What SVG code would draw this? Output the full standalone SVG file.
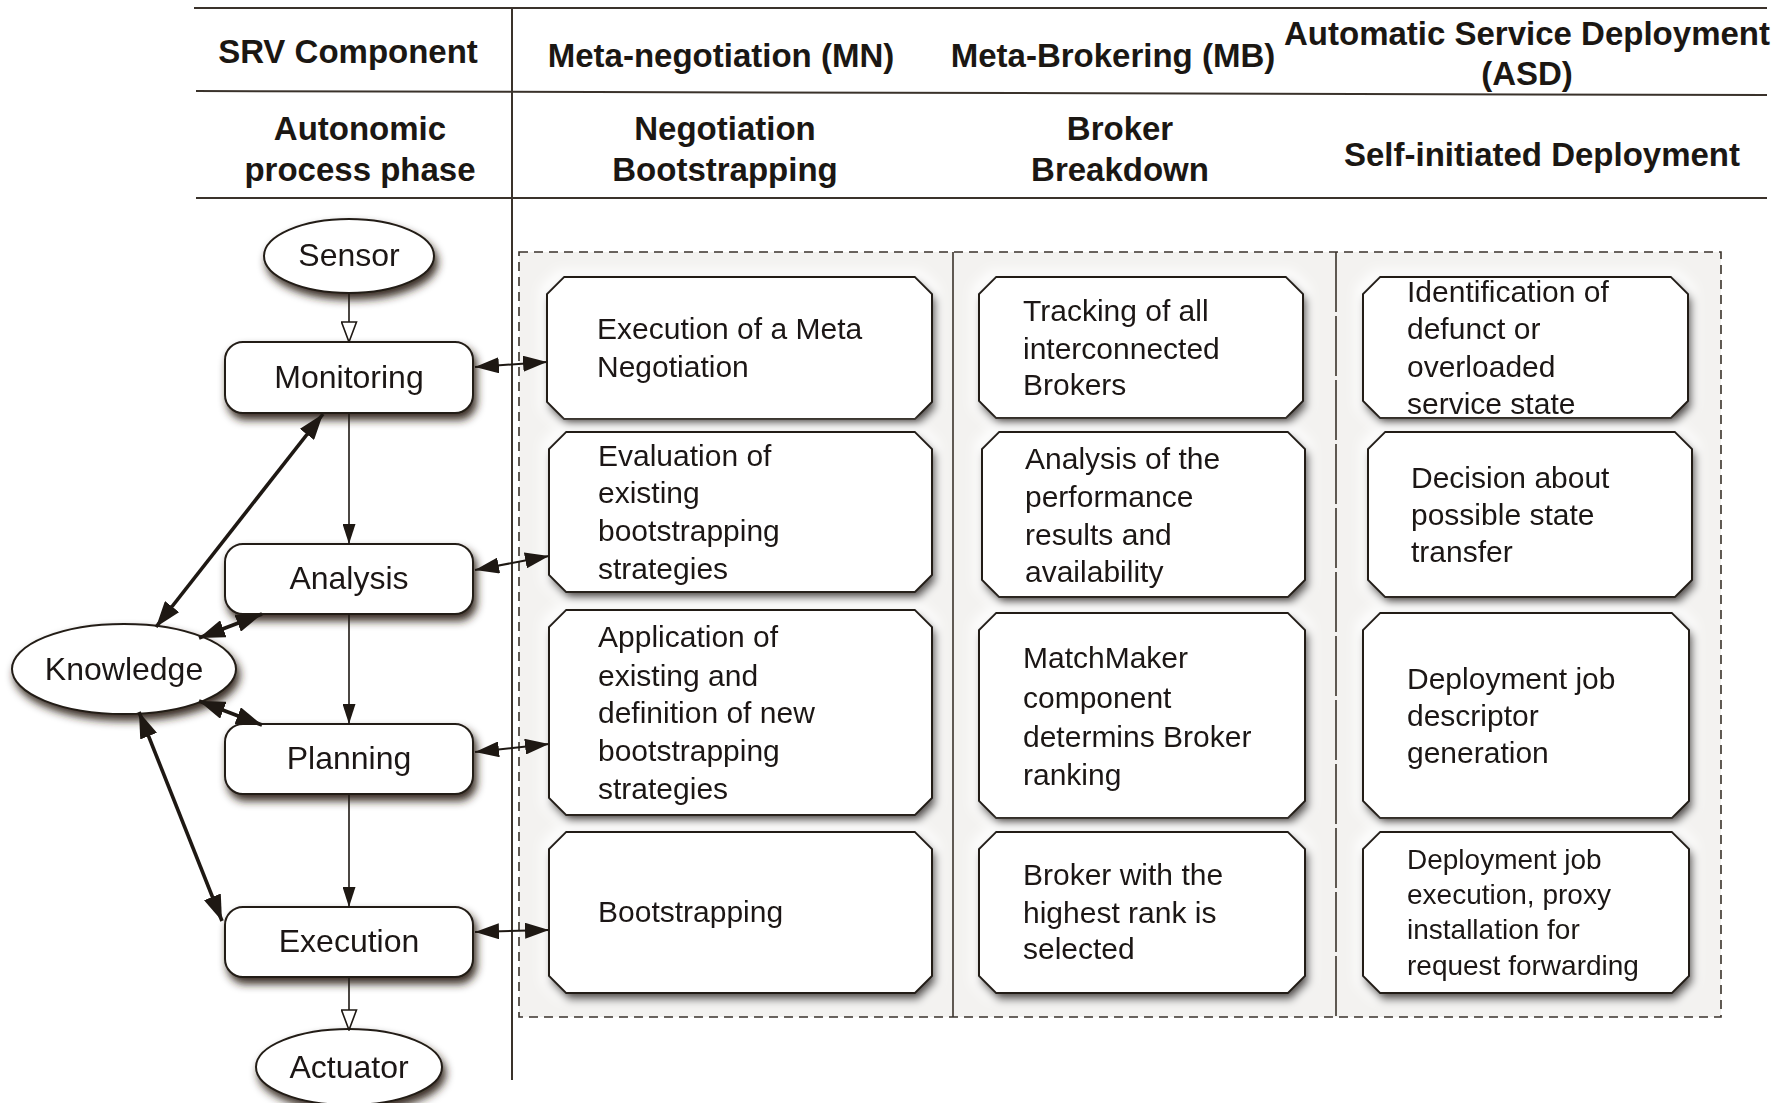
<svg xmlns="http://www.w3.org/2000/svg" width="1787" height="1103" viewBox="0 0 1787 1103">
  <style>
    .rule { stroke: #3a322b; stroke-width: 2; fill: none; }
    .head { font-family: "Liberation Sans", Arial, sans-serif; font-weight: bold; font-size: 33px; fill: #1b1713; text-anchor: middle; }
    .lbl { font-family: "Liberation Sans", Arial, sans-serif; font-size: 32px; fill: #1b1713; text-anchor: middle; }
    .txt { font-family: "Liberation Sans", Arial, sans-serif; font-size: 30px; fill: #1b1713; }
    .small { font-size: 28px; }
    .shape { fill: #ffffff; stroke: #231d17; stroke-width: 2; }
    .flow { stroke: #1e1813; stroke-width: 1.6; fill: none; }
    .kn { stroke: #1e1813; stroke-width: 3.6; fill: none; }
    .link { stroke: #1e1813; stroke-width: 2; fill: none; }
  </style>
  <defs>
    <!-- soft white glow plus brown drop shadow for the step boxes -->
    <filter id="drop" x="-15%" y="-15%" width="135%" height="150%">
      <feMorphology in="SourceAlpha" operator="dilate" radius="6" result="wide"/>
      <feGaussianBlur in="wide" stdDeviation="6" result="haloBlur"/>
      <feFlood flood-color="#ffffff" flood-opacity="0.9"/>
      <feComposite in2="haloBlur" operator="in" result="halo"/>
      <feGaussianBlur in="SourceAlpha" stdDeviation="4" result="blur"/>
      <feOffset in="blur" dx="3" dy="6" result="off"/>
      <feFlood flood-color="#2e2218" flood-opacity="0.95"/>
      <feComposite in2="off" operator="in" result="shadow"/>
      <feMerge><feMergeNode in="halo"/><feMergeNode in="shadow"/><feMergeNode in="SourceGraphic"/></feMerge>
    </filter>
    <!-- plain drop shadow for the loop nodes -->
    <filter id="drop2" x="-15%" y="-15%" width="135%" height="150%">
      <feGaussianBlur in="SourceAlpha" stdDeviation="4" result="blur"/>
      <feOffset in="blur" dx="3" dy="6" result="off"/>
      <feFlood flood-color="#2e2218" flood-opacity="0.95"/>
      <feComposite in2="off" operator="in" result="shadow"/>
      <feMerge><feMergeNode in="shadow"/><feMergeNode in="SourceGraphic"/></feMerge>
    </filter>
    <marker id="solid" viewBox="0 0 20 13" refX="20" refY="6.5" markerWidth="20" markerHeight="13" markerUnits="userSpaceOnUse" orient="auto-start-reverse">
      <path d="M0,0 L20,6.5 L0,13 z" fill="#1e1813"/>
    </marker>
    <marker id="hollow" viewBox="0 0 22 17" refX="21" refY="8.5" markerWidth="22" markerHeight="17" markerUnits="userSpaceOnUse" orient="auto">
      <path d="M1,1 L21,8.5 L1,16 z" fill="#ffffff" stroke="#1e1813" stroke-width="1.6"/>
    </marker>
    <marker id="big" viewBox="0 0 26 18" refX="26" refY="9" markerWidth="26" markerHeight="18" markerUnits="userSpaceOnUse" orient="auto-start-reverse">
      <path d="M0,0 L26,9 L0,18 z" fill="#1e1813"/>
    </marker>
    <marker id="mid" viewBox="0 0 24 16" refX="24" refY="8" markerWidth="24" markerHeight="16" markerUnits="userSpaceOnUse" orient="auto-start-reverse">
      <path d="M0,0 L24,8 L0,16 z" fill="#1e1813"/>
    </marker>
  </defs>

  <rect width="1787" height="1103" fill="#ffffff"/>

  <!-- table header rules -->
  <g id="table">
    <line class="rule" x1="194" y1="8" x2="1767" y2="8"/>
    <line class="rule" x1="196" y1="91" x2="1767" y2="95"/>
    <line class="rule" x1="196" y1="198" x2="1767" y2="198"/>
    <line class="rule" x1="512" y1="8" x2="512" y2="1080"/>
    <text class="head" x="348" y="63">SRV Component</text>
    <text class="head" x="721" y="67">Meta-negotiation (MN)</text>
    <text class="head" x="1113" y="67">Meta-Brokering (MB)</text>
    <text class="head" x="1527" y="45">Automatic Service Deployment</text>
    <text class="head" x="1527" y="85">(ASD)</text>
    <text class="head" x="360" y="140">Autonomic</text>
    <text class="head" x="360" y="181">process phase</text>
    <text class="head" x="725" y="140">Negotiation</text>
    <text class="head" x="725" y="181">Bootstrapping</text>
    <text class="head" x="1120" y="140">Broker</text>
    <text class="head" x="1120" y="181">Breakdown</text>
    <text class="head" x="1542" y="166">Self-initiated Deployment</text>
  </g>

  <!-- component area -->
  <g id="area">
    <rect x="519" y="252" width="1202" height="765" fill="#f3f2f0" stroke="#3a322b" stroke-width="1.6" stroke-dasharray="9 6"/>
    <line x1="953" y1="252" x2="953" y2="1017" stroke="#3a322b" stroke-width="1.6"/>
    <line x1="1336" y1="252" x2="1336" y2="1017" stroke="#3a322b" stroke-width="1.6" stroke-dasharray="60 4"/>
  </g>

  <!-- autonomic loop -->
  <g id="sensor" filter="url(#drop2)">
    <ellipse class="shape" cx="349" cy="256" rx="85" ry="37"/>
    <text class="lbl" x="349" y="266">Sensor</text>
  </g>
  <g id="monitoring" filter="url(#drop2)">
    <rect class="shape" x="225" y="342" width="248" height="71" rx="18"/>
    <text class="lbl" x="349" y="388">Monitoring</text>
  </g>
  <g id="analysis" filter="url(#drop2)">
    <rect class="shape" x="225" y="544" width="248" height="70" rx="18"/>
    <text class="lbl" x="349" y="589">Analysis</text>
  </g>
  <g id="planning" filter="url(#drop2)">
    <rect class="shape" x="225" y="724" width="248" height="70" rx="18"/>
    <text class="lbl" x="349" y="769">Planning</text>
  </g>
  <g id="execution" filter="url(#drop2)">
    <rect class="shape" x="225" y="907" width="248" height="70" rx="18"/>
    <text class="lbl" x="349" y="952">Execution</text>
  </g>
  <g id="knowledge" filter="url(#drop2)">
    <ellipse class="shape" cx="124" cy="669" rx="112" ry="45"/>
    <text class="lbl" x="124" y="680">Knowledge</text>
  </g>
  <g id="actuator" filter="url(#drop2)">
    <ellipse class="shape" cx="349" cy="1067" rx="93" ry="38"/>
    <text class="lbl" x="349" y="1078">Actuator</text>
  </g>

  <!-- Meta-negotiation column -->
  <g id="mn-1" filter="url(#drop)">
    <path class="shape" d="M564,277 H915 L932,294 V402 L915,419 H564 L547,402 V294 Z"/>
    <text class="txt" x="597" y="339">Execution of a Meta</text>
    <text class="txt" x="597" y="377">Negotiation</text>
  </g>
  <g id="mn-2" filter="url(#drop)">
    <path class="shape" d="M566,432 H915 L932,449 V575 L915,592 H566 L549,575 V449 Z"/>
    <text class="txt" x="598" y="466">Evaluation of</text>
    <text class="txt" x="598" y="503">existing</text>
    <text class="txt" x="598" y="541">bootstrapping</text>
    <text class="txt" x="598" y="579">strategies</text>
  </g>
  <g id="mn-3" filter="url(#drop)">
    <path class="shape" d="M566,610 H915 L932,627 V798 L915,815 H566 L549,798 V627 Z"/>
    <text class="txt" x="598" y="647">Application of</text>
    <text class="txt" x="598" y="686">existing and</text>
    <text class="txt" x="598" y="723">definition of new</text>
    <text class="txt" x="598" y="761">bootstrapping</text>
    <text class="txt" x="598" y="799">strategies</text>
  </g>
  <g id="mn-4" filter="url(#drop)">
    <path class="shape" d="M566,832 H915 L932,849 V976 L915,993 H566 L549,976 V849 Z"/>
    <text class="txt" x="598" y="922">Bootstrapping</text>
  </g>

  <!-- Meta-Brokering column -->
  <g id="mb-1" filter="url(#drop)">
    <path class="shape" d="M996,277 H1286 L1303,294 V401 L1286,418 H996 L979,401 V294 Z"/>
    <text class="txt" x="1023" y="321">Tracking of all</text>
    <text class="txt" x="1023" y="359">interconnected</text>
    <text class="txt" x="1023" y="395">Brokers</text>
  </g>
  <g id="mb-2" filter="url(#drop)">
    <path class="shape" d="M999,432 H1288 L1305,449 V580 L1288,597 H999 L982,580 V449 Z"/>
    <text class="txt" x="1025" y="469">Analysis of the</text>
    <text class="txt" x="1025" y="507">performance</text>
    <text class="txt" x="1025" y="545">results and</text>
    <text class="txt" x="1025" y="582">availability</text>
  </g>
  <g id="mb-3" filter="url(#drop)">
    <path class="shape" d="M996,613 H1288 L1305,630 V801 L1288,818 H996 L979,801 V630 Z"/>
    <text class="txt" x="1023" y="668">MatchMaker</text>
    <text class="txt" x="1023" y="708">component</text>
    <text class="txt" x="1023" y="747">determins Broker</text>
    <text class="txt" x="1023" y="785">ranking</text>
  </g>
  <g id="mb-4" filter="url(#drop)">
    <path class="shape" d="M996,832 H1288 L1305,849 V976 L1288,993 H996 L979,976 V849 Z"/>
    <text class="txt" x="1023" y="885">Broker with the</text>
    <text class="txt" x="1023" y="923">highest rank is</text>
    <text class="txt" x="1023" y="959">selected</text>
  </g>

  <!-- Automatic Service Deployment column -->
  <g id="asd-1" filter="url(#drop)">
    <path class="shape" d="M1380,277 H1671 L1688,294 V401 L1671,418 H1380 L1363,401 V294 Z"/>
    <text class="txt" x="1407" y="302">Identification of</text>
    <text class="txt" x="1407" y="339">defunct or</text>
    <text class="txt" x="1407" y="377">overloaded</text>
    <text class="txt" x="1407" y="414">service state</text>
  </g>
  <g id="asd-2" filter="url(#drop)">
    <path class="shape" d="M1385,432 H1675 L1692,449 V580 L1675,597 H1385 L1368,580 V449 Z"/>
    <text class="txt" x="1411" y="488">Decision about</text>
    <text class="txt" x="1411" y="525">possible state</text>
    <text class="txt" x="1411" y="562">transfer</text>
  </g>
  <g id="asd-3" filter="url(#drop)">
    <path class="shape" d="M1380,613 H1672 L1689,630 V801 L1672,818 H1380 L1363,801 V630 Z"/>
    <text class="txt" x="1407" y="689">Deployment job</text>
    <text class="txt" x="1407" y="726">descriptor</text>
    <text class="txt" x="1407" y="763">generation</text>
  </g>
  <g id="asd-4" filter="url(#drop)">
    <path class="shape" d="M1380,832 H1672 L1689,849 V976 L1672,993 H1380 L1363,976 V849 Z"/>
    <text class="txt small" x="1407" y="869">Deployment job</text>
    <text class="txt small" x="1407" y="904">execution, proxy</text>
    <text class="txt small" x="1407" y="939">installation for</text>
    <text class="txt small" x="1407" y="975">request forwarding</text>
  </g>

  <!-- connectors, drawn above the node shadows -->
  <g id="connectors">
    <line class="flow" x1="349" y1="294" x2="349" y2="342" marker-end="url(#hollow)"/>
    <line class="flow" x1="349" y1="414" x2="349" y2="544" marker-end="url(#solid)"/>
    <line class="flow" x1="349" y1="614" x2="349" y2="724" marker-end="url(#solid)"/>
    <line class="flow" x1="349" y1="795" x2="349" y2="907" marker-end="url(#solid)"/>
    <line class="flow" x1="349" y1="978" x2="349" y2="1030" marker-end="url(#hollow)"/>

    <line class="kn" x1="156" y1="627" x2="323" y2="414" marker-start="url(#big)" marker-end="url(#big)"/>
    <line class="kn" x1="199" y1="638" x2="262" y2="614" marker-start="url(#big)" marker-end="url(#big)"/>
    <line class="kn" x1="199" y1="701" x2="262" y2="725" marker-start="url(#big)" marker-end="url(#big)"/>
    <line class="kn" x1="139" y1="712" x2="222" y2="921" marker-start="url(#big)" marker-end="url(#big)"/>

    <line class="link" x1="475" y1="367" x2="547" y2="362" marker-start="url(#mid)" marker-end="url(#mid)"/>
    <line class="link" x1="475" y1="570" x2="549" y2="556" marker-start="url(#mid)" marker-end="url(#mid)"/>
    <line class="link" x1="475" y1="752" x2="549" y2="744" marker-start="url(#mid)" marker-end="url(#mid)"/>
    <line class="link" x1="475" y1="932" x2="549" y2="930" marker-start="url(#mid)" marker-end="url(#mid)"/>
  </g>
</svg>
